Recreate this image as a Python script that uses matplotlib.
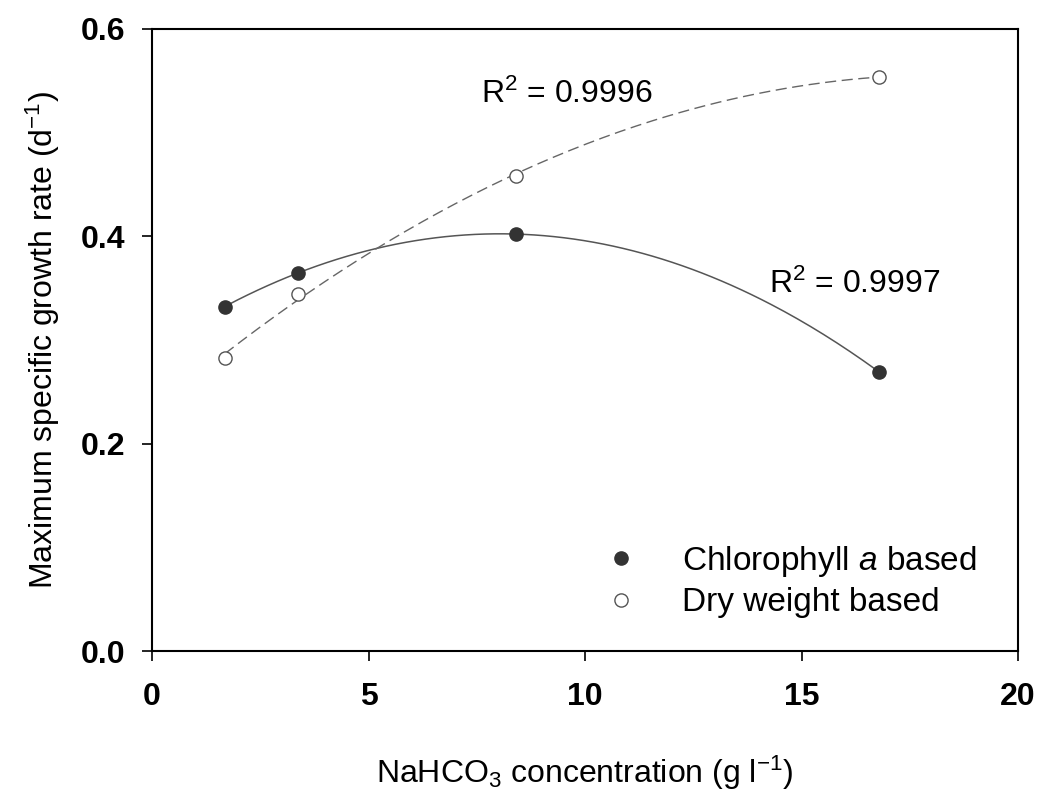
import numpy as np
import matplotlib
matplotlib.use('Agg')
import matplotlib.pyplot as plt

plt.rcParams['font.family'] = ['Liberation Sans', 'DejaVu Sans']
plt.rcParams['mathtext.fontset'] = 'custom'
plt.rcParams['mathtext.rm'] = 'Liberation Sans'
plt.rcParams['mathtext.it'] = 'Liberation Sans:italic'

# NaHCO3 concentration (g/l)
conc = [1.68, 3.36, 8.4, 16.8]
chl_rate = [0.332, 0.365, 0.402, 0.269]
dry_rate = [0.283, 0.344, 0.458, 0.554]
r2_chl = '0.9997'
r2_dry = '0.9996'

fig = plt.figure(figsize=(10.45, 7.97), dpi=100)
ax = fig.add_axes([0.1455, 0.183, 0.8287, 0.7807])

# quadratic regression curves
xs = np.linspace(conc[0], conc[-1], 200)
p_chl = np.polyfit(conc, chl_rate, 2)
p_dry = np.polyfit(conc, dry_rate, 2)
ax.plot(xs, np.polyval(p_chl, xs), color='#555555', lw=1.1, zorder=2)
ax.plot(xs, np.polyval(p_dry, xs), color='#666666', lw=1.0, dashes=(8, 4), zorder=2)

ax.plot(conc, chl_rate, 'o', ms=9.5, color='#333333', mec='#333333',
        label=r'Chlorophyll $\mathit{a}$ based', zorder=3)
ax.plot(conc, dry_rate, 'o', ms=9.5, mfc='white', mec='#555555', mew=1.0,
        label='Dry weight based', zorder=3)

ax.text(7.6, 0.537, r'R$^2$ = ' + r2_dry, fontsize=23, va='center', ha='left')
ax.text(14.25, 0.354, r'R$^2$ = ' + r2_chl, fontsize=23, va='center', ha='left')

ax.set_xlim(0, 20)
ax.set_ylim(0, 0.6)
ax.set_xticks([0, 5, 10, 15, 20])
ax.set_yticks([0.0, 0.2, 0.4, 0.6])
ax.set_yticklabels(['0.0', '0.2', '0.4', '0.6'])
ax.tick_params(direction='out', length=7, width=1.2, labelsize=23, pad=12)
ax.tick_params(axis='x', pad=15)
for lab in ax.get_xticklabels() + ax.get_yticklabels():
    lab.set_fontweight('bold')
for sp in ax.spines.values():
    sp.set_linewidth(1.5)

ax.set_xlabel(r'NaHCO$_3$ concentration (g l$^{-1}$)', fontsize=23, labelpad=30)
ax.set_ylabel(r'Maximum specific growth rate (d$^{-1}$)', fontsize=23, labelpad=14)

ax.legend(loc='center left', bbox_to_anchor=(0.5035, 0.1126), frameon=False,
          fontsize=24, borderpad=0, handlelength=1.0, handletextpad=1.32,
          labelspacing=0.25, numpoints=1)

fig.savefig('out.png', dpi=100)
